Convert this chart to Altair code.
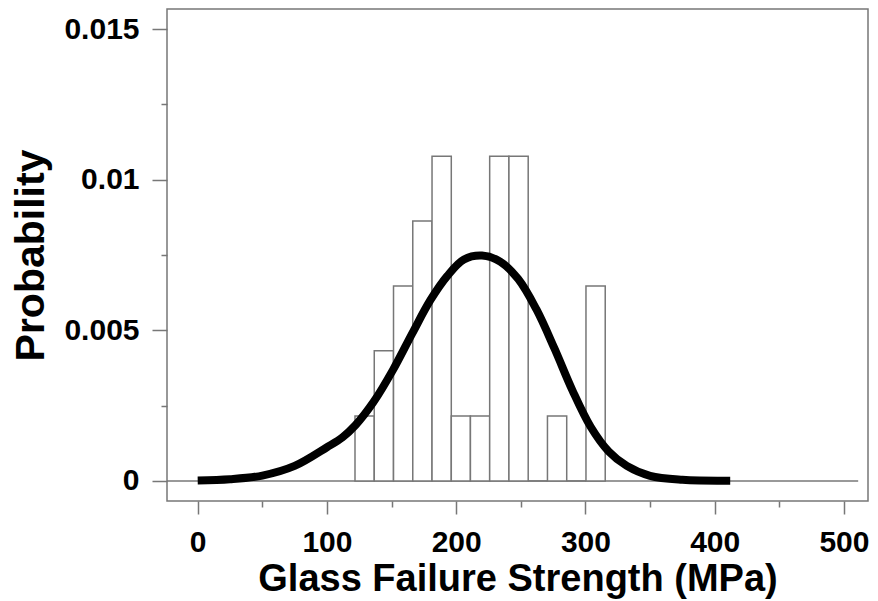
import altair as alt
import pandas as pd

# Histogram bins (MPa) and heights (probability density)
bin_lo = [121.7, 136.6, 151.5, 166.4, 181.3, 196.2, 211.0, 225.9, 240.8, 255.7, 270.6, 285.5, 300.4]
bin_hi = [136.6, 151.5, 166.4, 181.3, 196.2, 211.0, 225.9, 240.8, 255.7, 270.6, 285.5, 300.4, 315.3]
density = [0.00216, 0.00432, 0.00647, 0.00863, 0.01078, 0.00216, 0.00216,
           0.01078, 0.01078, 0.0, 0.00216, 0.0, 0.00647]

# Fitted curve, points
curve_x = [0, 25, 50, 75, 100, 112, 122, 136, 151, 166, 180, 193, 206, 220,
           234, 248, 262, 276, 290, 304, 318, 332, 350, 375, 412]
curve_y = [0.00002, 0.00006, 0.00018, 0.0005, 0.00112, 0.00145, 0.00185, 0.00262,
           0.00368, 0.0049, 0.0060, 0.0068, 0.00735, 0.00748, 0.00728, 0.0067,
           0.0057, 0.0044, 0.0030, 0.0018, 0.00098, 0.0005, 0.00017, 0.00004, 0.00001]

x_major = [0, 100, 200, 300, 400, 500]
x_minor = [50, 150, 250, 350, 450]
y_major = [0, 0.005, 0.01, 0.015]
y_minor = [0.0025, 0.0075, 0.0125]

x_domain = [-23.75, 518.6]
y_domain = [-0.000664, 0.015664]
baseline_x = [-23.75, 511]

FONT = "Liberation Sans"
GRAY = "#777777"

bars_df = pd.DataFrame({"lo": bin_lo, "hi": bin_hi, "d": density})
curve_df = pd.DataFrame({"x": curve_x, "y": curve_y})
base_df = pd.DataFrame({"x0": [baseline_x[0]], "x1": [baseline_x[1]], "y": [0.0]})

xs = alt.Scale(domain=x_domain, nice=False, zero=False)
ys = alt.Scale(domain=y_domain, nice=False, zero=False)

x_axis_major = alt.Axis(
    values=x_major, domain=False, grid=False, orient="bottom",
    tickColor=GRAY, tickWidth=1.5, tickSize=13,
    labelFont=FONT, labelFontSize=30, labelFontWeight="bold", labelColor="black",
    labelPadding=13, labelFlush=False, labelOverlap=False, format="d",
    title="Glass Failure Strength (MPa)", titleFont=FONT, titleFontSize=38,
    titleFontWeight="bold", titleColor="black", titlePadding=3,
)
y_axis_major = alt.Axis(
    values=y_major, domain=False, grid=False, orient="left",
    tickColor=GRAY, tickWidth=1.5, tickSize=15,
    labelFont=FONT, labelFontSize=30, labelFontWeight="bold", labelColor="black",
    labelPadding=13, labelFlush=False, labelOverlap=False,
    labelExpr="datum.value == 0 ? '0' : format(datum.value, '.3~f')",
    title="Probability", titleFont=FONT, titleFontSize=41,
    titleFontWeight="bold", titleColor="black", titlePadding=11,
)
x_axis_minor = alt.Axis(
    values=x_minor, domain=False, grid=False, orient="bottom", labels=False,
    tickColor=GRAY, tickWidth=1.5, tickSize=6, title=None,
)
y_axis_minor = alt.Axis(
    values=y_minor, domain=False, grid=False, orient="left", labels=False,
    tickColor=GRAY, tickWidth=1.5, tickSize=6, title=None,
)

bars = alt.Chart(bars_df).mark_rect(
    fill="white", stroke=GRAY, strokeWidth=1.5
).encode(
    x=alt.X("lo:Q", scale=xs, axis=x_axis_major),
    x2="hi:Q",
    y=alt.Y("d:Q", scale=ys, axis=y_axis_major),
    y2=alt.datum(0),
)

baseline = alt.Chart(base_df).mark_rule(color=GRAY, strokeWidth=1.5).encode(
    x=alt.X("x0:Q", scale=xs, axis=x_axis_minor),
    x2="x1:Q",
    y=alt.Y("y:Q", scale=ys, axis=y_axis_minor),
)

curve = alt.Chart(curve_df).mark_line(
    color="black", strokeWidth=8, interpolate="catmull-rom", strokeCap="butt"
).encode(
    x=alt.X("x:Q", scale=xs, axis=None),
    y=alt.Y("y:Q", scale=ys, axis=None),
)

chart = alt.layer(baseline, bars, curve).resolve_axis(
    x="independent", y="independent"
).properties(
    width=701, height=492,
    autosize=alt.AutoSizeParams(type="none"),
    padding={"left": 159, "top": 1, "right": 1, "bottom": 100},
).configure(background="white").configure_view(stroke=GRAY, strokeWidth=1.5)

chart.save("out.html", embed_options={"renderer": "svg", "actions": False})
